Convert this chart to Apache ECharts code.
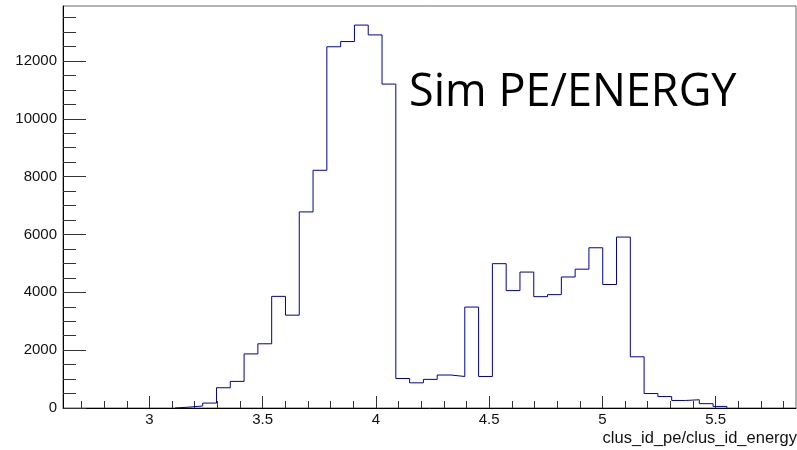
<!DOCTYPE html>
<html>
<head>
<meta charset="utf-8">
<script src="https://cdn.jsdelivr.net/npm/echarts@6/dist/echarts.min.js"></script>
<style>
html,body{margin:0;padding:0;background:#fff;}
#chart{width:797px;height:450px;}
</style>
</head>
<body>
<div id="chart"></div>
<script>
// ---- data ----
var binStart = 3.1135;      // lower edge of first filled bin
var binWidth = 0.0609;      // bin width
var counts = [30, 70, 170, 700, 920, 1870, 2220, 3860, 3210, 6780,
              8220, 12490, 12670, 13240, 12900, 11200, 1020, 870, 990, 1140,
              1090, 3490, 1090, 4990, 4060, 4700, 3850, 3920, 4530, 4800,
              5540, 4270, 5910, 1770, 500, 395, 260, 285, 150, 55];
var xRange = [2.6185, 5.8547];
var yRange = [0, 13900];
var xMajorTicks = [3, 3.5, 4, 4.5, 5, 5.5];
var xMinorTicks = [2.7, 2.8, 2.9, 3.1, 3.2, 3.3, 3.4, 3.6, 3.7, 3.8, 3.9, 4.1, 4.2, 4.3, 4.4,
                   4.6, 4.7, 4.8, 4.9, 5.1, 5.2, 5.3, 5.4, 5.6, 5.7, 5.8];
var yMajorTicks = [0, 2000, 4000, 6000, 8000, 10000, 12000];
var yMinorTicks = [500, 1000, 1500, 2500, 3000, 3500, 4500, 5000, 5500, 6500, 7000, 7500,
                   8500, 9000, 9500, 10500, 11000, 11500, 12500, 13000, 13500];
var titleText = 'Sim PE/ENERGY';
var xAxisTitle = 'clus_id_pe/clus_id_energy';

// ---- build step outline of histogram ----
var stepData = [[binStart, 0]];
for (var i = 0; i < counts.length; i++) {
  stepData.push([binStart + i * binWidth, counts[i]]);
}
stepData.push([binStart + counts.length * binWidth, 0]);

var chart = echarts.init(document.getElementById('chart'), null, {renderer: 'canvas'});
var tickColor = '#333';
var plain = function (v) { return String(v); };
var option = {
  animation: false,
  backgroundColor: '#fff',
  grid: {left: 63, right: 1, top: 6, bottom: 42, show: true, borderColor: '#666', borderWidth: 1, containLabel: false},
  xAxis: [{
    type: 'value', min: xRange[0], max: xRange[1], position: 'bottom',
    axisLine: {show: true, onZero: false, lineStyle: {color: '#000', width: 1}},
    axisTick: {show: true, inside: true, length: 12, customValues: xMajorTicks, lineStyle: {color: tickColor}},
    axisLabel: {show: true, customValues: xMajorTicks, margin: 4, color: '#111', formatter: plain,
      fontFamily: 'Liberation Sans', fontSize: 15},
    splitLine: {show: false}
  }, {
    type: 'value', min: xRange[0], max: xRange[1], position: 'bottom',
    axisLine: {show: false},
    axisTick: {show: true, inside: true, length: 7, customValues: xMinorTicks, lineStyle: {color: tickColor}},
    axisLabel: {show: false},
    splitLine: {show: false}
  }],
  yAxis: [{
    type: 'value', min: yRange[0], max: yRange[1], position: 'left',
    axisLine: {show: true, onZero: false, lineStyle: {color: '#000', width: 1}},
    axisTick: {show: true, inside: true, length: 23, customValues: yMajorTicks, lineStyle: {color: tickColor}},
    axisLabel: {show: true, customValues: yMajorTicks, margin: 6, color: '#111', formatter: plain,
      fontFamily: 'Liberation Sans', fontSize: 15},
    splitLine: {show: false}
  }, {
    type: 'value', min: yRange[0], max: yRange[1], position: 'left',
    axisLine: {show: false},
    axisTick: {show: true, inside: true, length: 13, customValues: yMinorTicks, lineStyle: {color: tickColor}},
    axisLabel: {show: false},
    splitLine: {show: false}
  }],
  series: [{
    type: 'line', xAxisIndex: 0, yAxisIndex: 0,
    step: 'end', showSymbol: false, symbol: 'none',
    lineStyle: {color: '#00009a', width: 1},
    data: stepData, z: 5, silent: true
  }],
  graphic: [{
    type: 'text', x: 409, y: 93,
    style: {text: titleText, font: '45px "Open Sans"', fill: '#000', textAlign: 'left', textVerticalAlign: 'middle', verticalAlign: 'middle'}
  }, {
    type: 'text', x: 797, y: 438.5,
    style: {text: xAxisTitle, font: '16.5px "Liberation Sans"', fill: '#111', textAlign: 'right', align: 'right', verticalAlign: 'middle', textVerticalAlign: 'middle'}
  }]
};
chart.setOption(option);
</script>
</body>
</html>
